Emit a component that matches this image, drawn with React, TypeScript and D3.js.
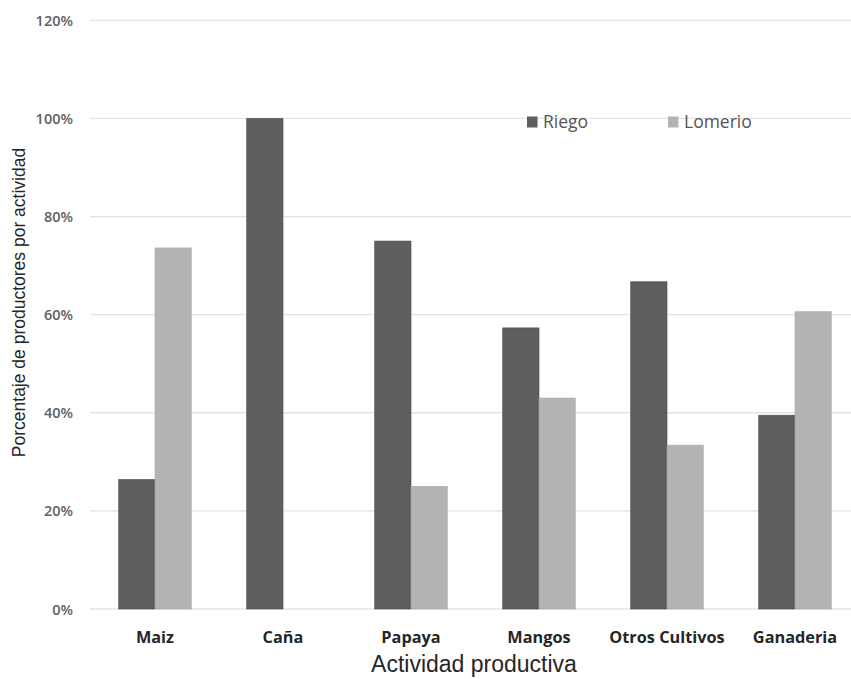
import React from "react";
import * as d3 from "d3";

const categories = ["Maiz", "Caña", "Papaya", "Mangos", "Otros Cultivos", "Ganaderia"];
const seriesNames = ["Riego", "Lomerio"];
const riego = [0.264, 1.0, 0.75, 0.573, 0.667, 0.395];
const lomerio = [0.736, 0, 0.25, 0.43, 0.334, 0.606];
const yTicks = [0, 0.2, 0.4, 0.6, 0.8, 1.0, 1.2];
const yTickLabels = ["0%", "20%", "40%", "60%", "80%", "100%", "120%"];
const xTitle = "Actividad productiva";
const yTitle = "Porcentaje de productores por actividad";

const colors = ["#5e5e5e", "#b3b3b3"];
const W = 851;
const H = 679;
const LABEL_FONT = "'Open Sans', sans-serif";
const TITLE_FONT = "'Liberation Sans', Arial, sans-serif";

export default function App() {
  const x0 = d3
    .scaleBand<string>()
    .domain(categories)
    .range([91, 859])
    .paddingInner(0.433)
    .paddingOuter(0.2165);
  const x1 = d3.scaleBand<string>().domain(seriesNames).range([0, x0.bandwidth()]);
  const y = d3.scaleLinear().domain([0, 1.2]).range([609, 20.3]);
  const values = [riego, lomerio];

  return (
    <svg
      width={W}
      height={H}
      style={{ position: "fixed", left: 0, top: 0, background: "#fff" }}
    >
      <rect x={0} y={0} width={W} height={H} fill="#fff" />
      {yTicks.map((t, i) => (
        <g key={i}>
          <line x1={90} x2={W} y1={y(t)} y2={y(t)} stroke="#e3e3e3" strokeWidth={1.3} />
          <text
            x={73}
            y={y(t) + 5.5}
            textAnchor="end"
            fontSize={14.5}
            fontWeight={600}
            fontFamily={LABEL_FONT}
            fill="#5f5f5f"
          >
            {yTickLabels[i]}
          </text>
        </g>
      ))}
      {categories.map((c, ci) => (
        <g key={c} transform={`translate(${x0(c)},0)`}>
          {seriesNames.map((s, si) => {
            const v = values[si][ci];
            if (!v) return null;
            return (
              <rect
                key={s}
                x={x1(s)}
                y={y(v)}
                width={x1.bandwidth()}
                height={y(0) - y(v)}
                fill={colors[si]}
                stroke={si === 0 ? "#4a4a4a" : "#a8a8a8"}
                strokeWidth={0.6}
              />
            );
          })}
          <text
            x={x0.bandwidth() / 2}
            y={643}
            textAnchor="middle"
            fontSize={16.3}
            fontWeight="bold"
            fontFamily={LABEL_FONT}
            fill="#262626"
          >
            {c}
          </text>
        </g>
      ))}
      <text
        x={474}
        y={672}
        textAnchor="middle"
        fontSize={23}
        fontFamily={TITLE_FONT}
        fill="#262626"
      >
        {xTitle}
      </text>
      <text
        transform={`translate(25,302.5) rotate(-90)`}
        textAnchor="middle"
        fontSize={17.5}
        fontFamily={TITLE_FONT}
        fill="#262626"
      >
        {yTitle}
      </text>
      {seriesNames.map((s, i) => {
        const lx = i === 0 ? 527 : 668;
        return (
          <g key={s}>
            <rect x={lx} y={116.5} width={10.5} height={11} fill={colors[i]} />
            <text
              x={lx + 16}
              y={128}
              fontSize={17.5}
              fontFamily={LABEL_FONT}
              fill="#555"
            >
              {s}
            </text>
          </g>
        );
      })}
    </svg>
  );
}
